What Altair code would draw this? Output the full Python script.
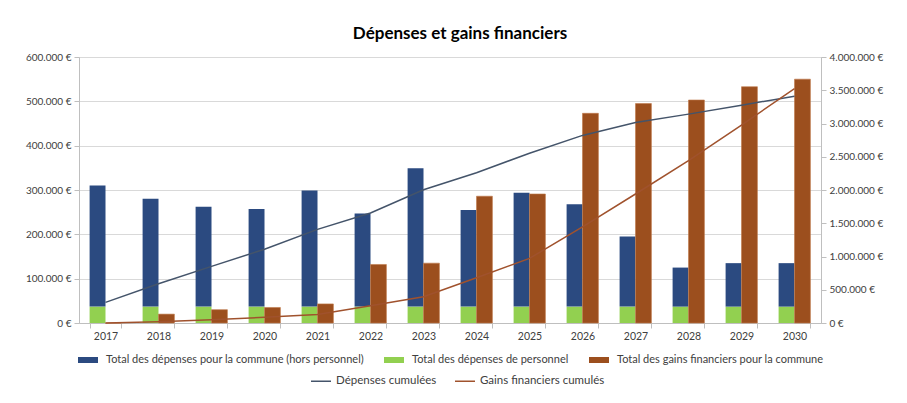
import altair as alt
import pandas as pd

years = ["2017", "2018", "2019", "2020", "2021", "2022", "2023",
         "2024", "2025", "2026", "2027", "2028", "2029", "2030"]
hors_personnel = [273000, 243000, 225000, 220000, 262000, 210000, 312000,
                  218000, 257000, 231000, 158000, 88000, 98000, 98000]
personnel = [37000, 37000, 37000, 37000, 37000, 37000, 37000,
             37000, 37000, 37000, 37000, 37000, 37000, 37000]
gains = [0, 20000, 30000, 35000, 43000, 132000, 135000,
         286000, 291000, 473000, 495000, 503000, 533000, 550000]
depenses_cumulees = [310000, 590000, 852000, 1109000, 1408000, 1655000, 2004000,
                     2259000, 2553000, 2821000, 3016000, 3141000, 3276000, 3411000]
gains_cumules = [0, 20000, 50000, 85000, 128000, 260000, 395000,
                 681000, 972000, 1445000, 1940000, 2443000, 2976000, 3526000]

S_HORS = "Total des dépenses pour la commune (hors personnel)"
S_PERS = "Total des dépenses de personnel"
S_GAINS = "Total des gains financiers pour la commune"
L_DEP = "Dépenses cumulées"
L_GAINS = "Gains financiers cumulés"

FONT = "Lato"

rows = []
for i, yr in enumerate(years):
    rows.append({"year": yr, "series": S_PERS, "value": personnel[i], "ord": 0, "grp": "a"})
    rows.append({"year": yr, "series": S_HORS, "value": hors_personnel[i], "ord": 1, "grp": "a"})
df_stack = pd.DataFrame(rows)
df_gains = pd.DataFrame({"year": years, "series": S_GAINS, "value": gains, "grp": "b"})
df_lines = pd.DataFrame({
    "year": years + years,
    "line": [L_DEP] * len(years) + [L_GAINS] * len(years),
    "value": depenses_cumulees + gains_cumules,
})

euro = "replace(format(datum.value, ',d'), regexp(',', 'g'), '.') + ' €'"

x_enc = alt.X("year:N", sort=years,
              scale=alt.Scale(paddingInner=0.4, paddingOuter=0.2),
              axis=alt.Axis(title=None, labelAngle=0, tickBand="extent",
                            domainColor="#bfbfbf", tickColor="#bfbfbf", tickSize=5,
                            labelPadding=3, labelFontSize=10.5, labelColor="#404040",
                            labelFont=FONT, grid=False))
xoff = alt.XOffset("grp:N", scale=alt.Scale(domain=["a", "b"], paddingInner=0, paddingOuter=0))

fill_scale = alt.Scale(domain=[S_HORS, S_PERS, S_GAINS],
                       range=["#2B4A80", "#92D050", "#9C4F1E"])
fill_legend = alt.Legend(orient="none", legendX=-1, legendY=293, direction="horizontal",
                         title=None, symbolType="M-1,-0.3H1V0.3H-1Z", symbolSize=400,
                         symbolStrokeWidth=0, labelOffset=8, columnPadding=20,
                         labelFontSize=11, labelFont=FONT, labelColor="#404040",
                         labelLimit=400, padding=0)

y_left = alt.Y("value:Q", stack="zero",
               scale=alt.Scale(domain=[0, 600000], nice=False),
               axis=alt.Axis(title=None, values=[0, 100000, 200000, 300000, 400000, 500000, 600000],
                             labelExpr=euro, grid=True, gridColor="#d9d9d9",
                             domainColor="#bfbfbf", tickColor="#bfbfbf", tickSize=5,
                             labelFontSize=10, labelColor="#404040", labelFont=FONT,
                             labelPadding=3))

stacked = alt.Chart(df_stack).mark_bar().encode(
    x=x_enc, xOffset=xoff, y=y_left,
    fill=alt.Fill("series:N", scale=fill_scale, legend=fill_legend),
    order=alt.Order("ord:Q", sort="ascending"),
)

brown = alt.Chart(df_gains).mark_bar(stroke="#c0794a", strokeWidth=0.6).encode(
    x=x_enc, xOffset=xoff,
    y=alt.Y("value:Q", stack=None, scale=alt.Scale(domain=[0, 600000], nice=False)),
    fill=alt.Fill("series:N", scale=fill_scale, legend=fill_legend),
)

bars = alt.layer(stacked, brown)

lines = alt.Chart(df_lines).mark_line(strokeWidth=1.5).encode(
    x=alt.X("year:N", sort=years),
    y=alt.Y("value:Q", scale=alt.Scale(domain=[0, 4000000], nice=False),
            axis=alt.Axis(title=None, orient="right",
                          values=[0, 500000, 1000000, 1500000, 2000000, 2500000, 3000000, 3500000, 4000000],
                          labelExpr=euro, grid=False,
                          domainColor="#bfbfbf", tickColor="#bfbfbf", tickSize=5,
                          labelFontSize=10, labelColor="#404040", labelFont=FONT,
                          labelPadding=3)),
    stroke=alt.Stroke("line:N",
                      scale=alt.Scale(domain=[L_DEP, L_GAINS], range=["#44546A", "#A0522D"]),
                      legend=alt.Legend(orient="none", legendX=231, legendY=313,
                                        direction="horizontal", title=None,
                                        symbolType="stroke", symbolSize=400,
                                        symbolStrokeWidth=1.5, labelOffset=4,
                                        columnPadding=15, labelFontSize=11.5,
                                        labelFont=FONT, labelColor="#404040",
                                        labelLimit=300, padding=0)),
)

chart = alt.layer(bars, lines).resolve_scale(y="independent").properties(
    width=742, height=266,
    title=alt.TitleParams("Dépenses et gains financiers", fontSize=17, fontWeight="bold",
                          font=FONT, color="#000000", anchor="middle", offset=9, dx=10),
    autosize=alt.AutoSizeParams(type="none"),
    padding={"left": 71, "top": 49, "right": 78, "bottom": 72},
).configure_view(stroke=None).configure(background="white")

chart.save("out.html", embed_options={"renderer": "svg", "actions": False})
